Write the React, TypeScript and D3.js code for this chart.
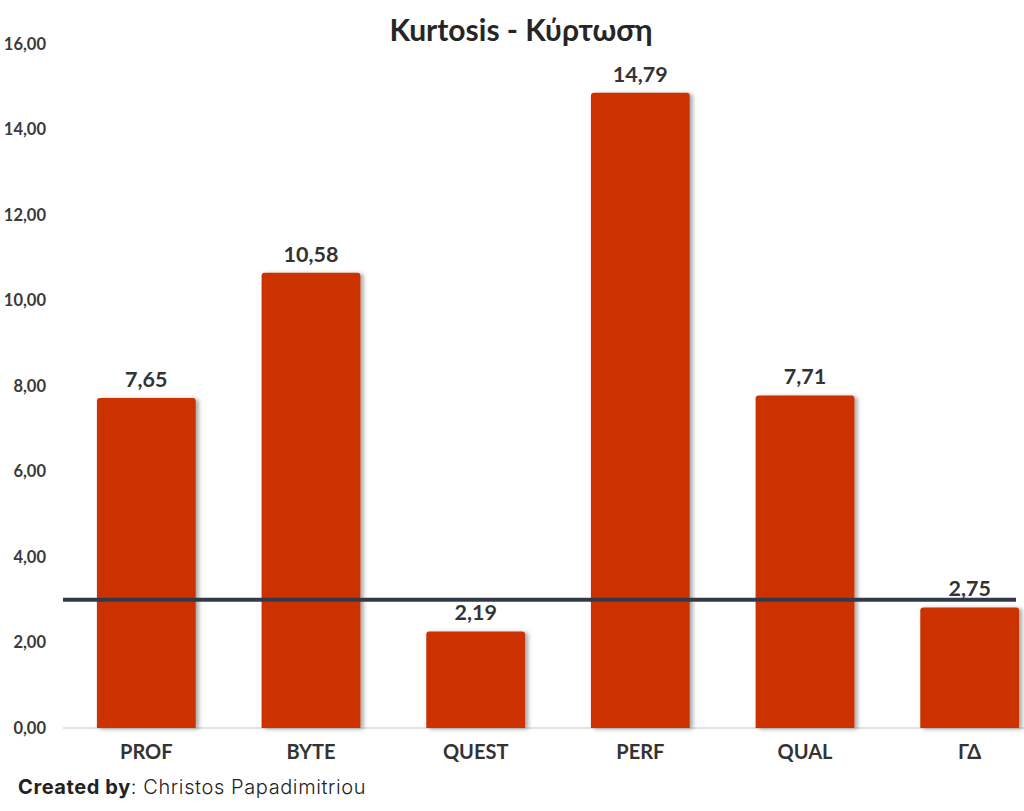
import React from "react";
import * as d3 from "d3";

const categories = ["PROF", "BYTE", "QUEST", "PERF", "QUAL", "ΓΔ"];
const values = [7.65, 10.58, 2.19, 14.79, 7.71, 2.75];
const yTicks = [0, 2, 4, 6, 8, 10, 12, 14, 16];
const threshold = 3;
const title = "Kurtosis - Κύρτωση";

const W = 1024;
const H = 811;

const fmt = (v: number) => v.toFixed(2).replace(".", ",");

export default function App() {
  const x = d3.scaleBand<string>().domain(categories).range([64, 1052]).paddingInner(0.4).paddingOuter(0.2);
  const y = d3.scaleLinear().domain([0, 16]).range([728, 44]);
  const font = "Lato, 'Open Sans', sans-serif";
  const r = 3;
  const lift = 3;
  return (
    <div style={{ position: "absolute", left: 0, top: 0 }}>
      <svg width={W} height={H} style={{ display: "block", background: "#fff" }}>
        <defs>
          <filter id="shadow" x="-20%" y="-20%" width="140%" height="140%">
            <feDropShadow dx="3" dy="1" stdDeviation="2" floodColor="#000" floodOpacity="0.35" />
          </filter>
        </defs>
        <text x={521} y={41} textAnchor="middle" fontFamily={font} fontWeight={700} fontSize={30} fill="#262626">
          {title}
        </text>
        {yTicks.map((t) => (
          <text key={t} x={46} y={y(t)} dy="0.35em" textAnchor="end" fontFamily={font} fontWeight={700} fontSize={16.5} fill="#3a3a3a">
            {fmt(t)}
          </text>
        ))}
        <line x1={63} x2={W} y1={y(0)} y2={y(0)} stroke="#d9d9d9" strokeWidth={1.5} />
        {categories.map((c, i) => {
          const x0 = x(c)!;
          const bw = x.bandwidth();
          const top = y(values[i]) - lift;
          const bottom = y(0);
          const path = `M${x0},${bottom} L${x0},${top + r} Q${x0},${top} ${x0 + r},${top} L${x0 + bw - r},${top} Q${x0 + bw},${top} ${x0 + bw},${top + r} L${x0 + bw},${bottom} Z`;
          return (
            <g key={c}>
              <path d={path} fill="#cc3300" filter="url(#shadow)" />
              <text x={x0 + bw / 2} y={top - 11} textAnchor="middle" fontFamily={font} fontWeight={700} fontSize={21.5} fill="#333">
                {fmt(values[i])}
              </text>
              <text x={x0 + bw / 2} y={759} textAnchor="middle" fontFamily={font} fontWeight={700} fontSize={20} fill="#333">
                {c}
              </text>
            </g>
          );
        })}
        <line x1={63} x2={1016} y1={y(threshold)} y2={y(threshold)} stroke="#323a4a" strokeWidth={4} />
        <text x={18} y={794} fontFamily="Inter, Lato, sans-serif" fontSize={20} letterSpacing={0.6} fill="#222">
          <tspan fontWeight={700}>Created by</tspan>
          <tspan fontWeight={300}>: Christos Papadimitriou</tspan>
        </text>
      </svg>
    </div>
  );
}
